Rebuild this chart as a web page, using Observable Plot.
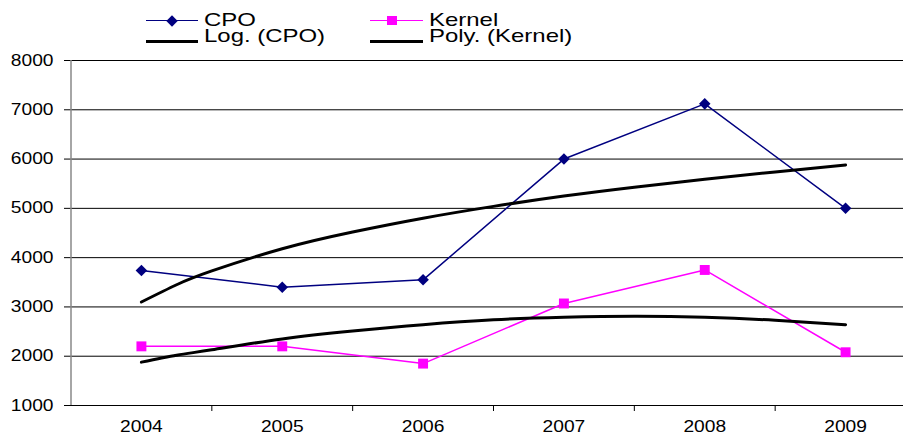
<!DOCTYPE html>
<html><head><meta charset="utf-8">
<script src="https://cdn.jsdelivr.net/npm/d3@7"></script>
<script src="https://cdn.jsdelivr.net/npm/@observablehq/plot@0.6"></script>
<style>
body{margin:0;background:#fff;font-family:"Liberation Sans",Arial,sans-serif;}
#legend{position:relative;width:903px;height:48px;overflow:hidden;}
.sw{position:absolute;height:0;}
.lbl{position:absolute;font-size:19px;line-height:15px;height:15px;white-space:nowrap;transform:scaleX(1.26);transform-origin:0 0;color:#000;}
.mk{position:absolute;}
#chart svg{display:block;}
</style></head><body>
<div id="legend"></div>
<div id="chart"></div>
<script>
// ---- data ----
const years = [2004, 2005, 2006, 2007, 2008, 2009];
const cpo = [3740, 3400, 3550, 6000, 7120, 5000];
const kernel = [2200, 2200, 1850, 3070, 3750, 2080];
const trendYears = [2004, 2004.25, 2004.5, 2005, 2005.5, 2006, 2006.5, 2007, 2007.5, 2008, 2008.5, 2009];
const logTrend = [3100, 3450, 3730, 4180, 4520, 4800, 5040, 5250, 5430, 5590, 5740, 5880];
const polyTrend = [1880, 2020, 2130, 2350, 2510, 2640, 2740, 2790, 2810, 2790, 2730, 2640];
const yTicks = [1000, 2000, 3000, 4000, 5000, 6000, 7000, 8000];
const bandEdges = [2004.5, 2005.5, 2006.5, 2007.5, 2008.5];
const seriesNames = ["CPO", "Kernel", "Log. (CPO)", "Poly. (Kernel)"];

// ---- legend (HTML above the plot) ----
const legend = document.getElementById("legend");
legend.innerHTML = `
 <div class="sw" style="left:146px;top:20px;width:52px;border-top:1.5px solid #000080"></div>
 <div class="mk" style="left:168px;top:16.75px;width:8px;height:8px;background:#000080;transform:rotate(45deg)"></div>
 <div class="lbl" style="left:204px;top:12px">${seriesNames[0]}</div>
 <div class="sw" style="left:370px;top:20px;width:53px;border-top:1.5px solid #ff00ff"></div>
 <div class="mk" style="left:387px;top:16.25px;width:10px;height:9px;background:#ff00ff"></div>
 <div class="lbl" style="left:429px;top:12px">${seriesNames[1]}</div>
 <div class="sw" style="left:146px;top:39.5px;width:52px;border-top:3px solid #000"></div>
 <div class="lbl" style="left:204px;top:28px">${seriesNames[2]}</div>
 <div class="sw" style="left:370px;top:39.5px;width:53px;border-top:3px solid #000"></div>
 <div class="lbl" style="left:429px;top:28px">${seriesNames[3]}</div>`;

const cpoData = years.map((x, i) => ({x, y: cpo[i]}));
const kernelData = years.map((x, i) => ({x, y: kernel[i]}));
const logData = trendYears.map((x, i) => ({x, y: logTrend[i]}));
const polyData = trendYears.map((x, i) => ({x, y: polyTrend[i]}));

const chart = Plot.plot({
  width: 903, height: 388,
  marginLeft: 70, marginRight: 0, marginTop: 12, marginBottom: 31,
  style: {fontFamily: '"Liberation Sans", Arial, sans-serif', fontSize: "16px", color: "#000", background: "#fff", overflow: "visible"},
  x: {type: "linear", domain: [2003.5, 2009.5], range: [70.5, 915.5], ticks: bandEdges, tickFormat: () => "", tickSize: 6, label: null},
  y: {domain: [1000, 8000], ticks: yTicks, tickSize: 6, tickPadding: 11, label: null, tickFormat: d => String(d)},
  marks: [
    Plot.ruleY(yTicks.slice(1), {stroke: "#000", strokeWidth: 1}),
    Plot.ruleY([1000], {stroke: "#000", strokeWidth: 1}),
    Plot.ruleX([2003.5], {y1: 1000, y2: 8000, stroke: "#888", strokeWidth: 1.5}),
    Plot.line(cpoData, {x: "x", y: "y", stroke: "#000080", strokeWidth: 1.5}),
    Plot.line(kernelData, {x: "x", y: "y", stroke: "#ff00ff", strokeWidth: 1.5}),
    Plot.line(logData, {x: "x", y: "y", stroke: "#000", strokeWidth: 3, curve: "natural"}),
    Plot.line(polyData, {x: "x", y: "y", stroke: "#000", strokeWidth: 3, curve: "natural"}),
    Plot.dot(cpoData, {x: "x", y: "y", symbol: "square", r: 4.6, rotate: 45, fill: "#000080", stroke: "none"}),
    Plot.dot(kernelData, {x: "x", y: "y", symbol: "square", r: 5.6, fill: "#ff00ff", stroke: "none"}),
    Plot.text(years, {x: d => d, y: () => 1000, text: d => String(d), dy: 21, fontSize: 16})
  ]
});
document.getElementById("chart").appendChild(chart);

// horizontally stretch the tick labels like the reference
chart.querySelectorAll("text").forEach(t => {
  const len = t.getComputedTextLength();
  if (len > 0) {
    t.setAttribute("textLength", (len * 1.2).toFixed(1));
    t.setAttribute("lengthAdjust", "spacingAndGlyphs");
  }
});
</script>
</body></html>
